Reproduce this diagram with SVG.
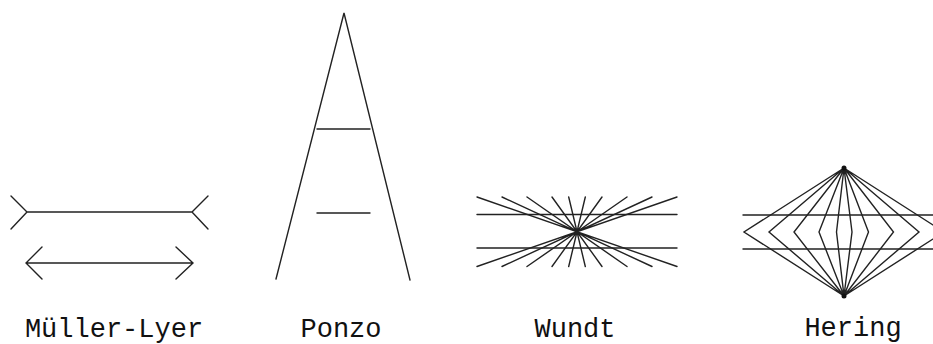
<svg xmlns="http://www.w3.org/2000/svg" width="933" height="344" viewBox="0 0 933 344">
<style>
.ln{stroke:#222;stroke-width:1.4;fill:none;stroke-linecap:round;stroke-linejoin:miter}
.lbl{font-family:"Liberation Mono","Courier New",monospace;font-size:27px;fill:#111;text-anchor:middle}
</style>
<rect width="933" height="344" fill="#fff"/>
<g id="muller-lyer">
<path class="ln" d="M27,212 L192,212 M11,196 L27,212 L11,229 M208,196 L192,212 L208,229"/>
<path class="ln" d="M26,263 L193,263 M42,247 L26,263 L42,279 M176,247 L193,263 L176,279"/>
<text class="lbl" x="114" y="337">Müller-Lyer</text>
</g>
<g id="ponzo">
<path class="ln" d="M276,279 L344,13 L410,280"/>
<path class="ln" d="M317,129 L370,129 M317,213 L370,213"/>
<text class="lbl" x="341" y="337">Ponzo</text>
</g>
<g id="wundt">
<path class="ln" d="M477,214.5 L677,214.5 M477,248 L677,248"/>
<path class="ln" d="M477,197 L677,266.5 M502,197 L652,266.5 M527,197 L627,266.5 M552,197 L602,266.5 M568.7,197 L585.3,266.5 M585.3,197 L568.7,266.5 M602,197 L552,266.5 M627,197 L527,266.5 M652,197 L502,266.5 M677,197 L477,266.5"/>
<text class="lbl" x="575" y="337">Wundt</text>
</g>
<g id="hering">
<path class="ln" d="M743,215 L945,215 M743,249 L945,249"/>
<path class="ln" d="M844,168 L744,232 L844,296 M844,168 L769,232 L844,296 M844,168 L794,232 L844,296 M844,168 L819,232 L844,296 M844,168 L836.5,232 L844,296 M844,168 L852,232 L844,296 M844,168 L868.5,232 L844,296 M844,168 L893.5,232 L844,296 M844,168 L919,232 L844,296 M844,168 L944,232 L844,296"/>
<circle cx="844" cy="168" r="2.5" fill="#111"/>
<circle cx="844" cy="296" r="2.5" fill="#111"/>
<text class="lbl" x="853" y="336">Hering</text>
</g>
</svg>
